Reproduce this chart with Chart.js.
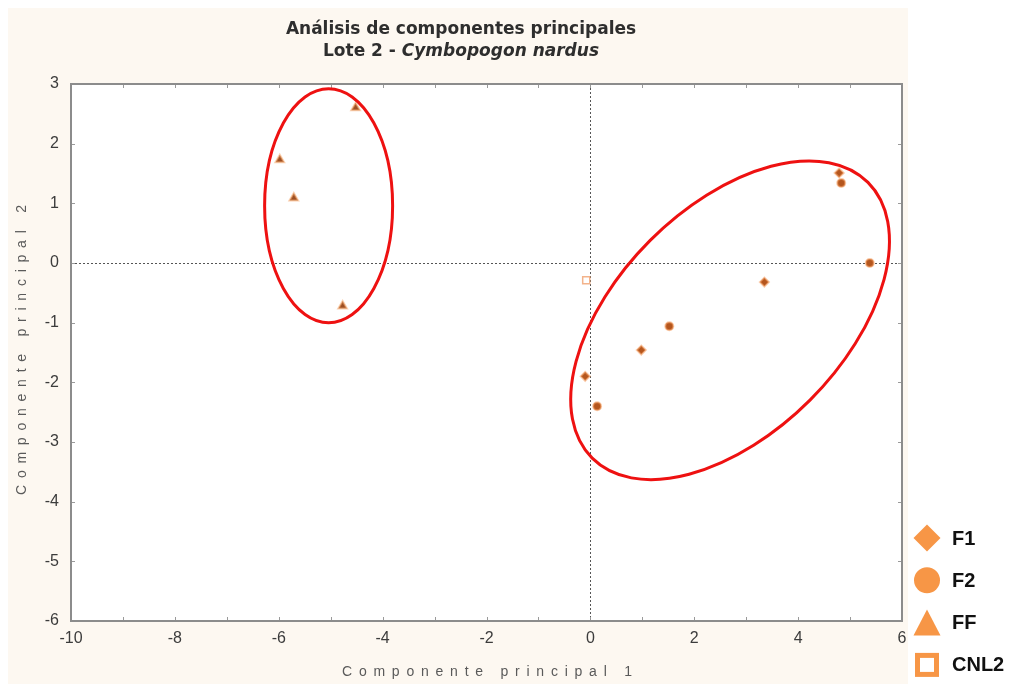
<!DOCTYPE html>
<html>
<head>
<meta charset="utf-8">
<script src="https://cdn.jsdelivr.net/npm/chart.js@4/dist/chart.umd.min.js"></script>
<style>
  html, body { margin: 0; padding: 0; background: #ffffff; }
  #wrap { width: 1024px; height: 684px; position: relative; }
</style>
</head>
<body>
<div id="wrap"><canvas id="pca" width="1024" height="684"></canvas></div>
<script>
// PCA scores, lote 2 (Cymbopogon nardus)
const seriesNames = ['F1', 'F2', 'FF', 'CNL2'];
const f1X = [-0.10, 0.98, 3.35, 4.79];
const f1Y = [-1.90, -1.46, -0.32, 1.51];
const f2X = [0.13, 1.52, 4.83, 5.38];
const f2Y = [-2.40, -1.06, 1.34, 0.00];
const ffX = [-5.98, -5.71, -4.52, -4.77];
const ffY = [1.73, 1.09, 2.60, -0.72];
const cnlX = [-0.08];
const cnlY = [-0.29];

// axis ranges and tick labels
const xRange = [-10, 6];
const yRange = [-6, 3];
const xTickLabels = [-10, -8, -6, -4, -2, 0, 2, 4, 6];
const yTickLabels = [-6, -5, -4, -3, -2, -1, 0, 1, 2, 3];

const titleLine1 = 'Análisis de componentes principales';
const titleLine2a = 'Lote 2 - ';
const titleLine2b = 'Cymbopogon nardus';
const xTitle = 'Componente principal 1';
const yTitle = 'Componente principal 2';

// cluster outlines: centre in data units, semi-axes in pixels, rotation in degrees
const clusterRings = [
  { cx: -5.04, cy: 0.96, rx: 64, ry: 117, rot: 0 },
  { cx: 2.69, cy: -0.96, rx: 195, ry: 113, rot: -45 }
];

const pts = (xs, ys) => xs.map((x, i) => ({ x, y: ys[i] }));

const LEGEND_ORANGE = '#f79646';

const backdrop = {
  id: 'backdrop',
  beforeDraw(chart) {
    const { ctx, chartArea: a } = chart;
    ctx.save();
    ctx.fillStyle = '#ffffff';
    ctx.fillRect(0, 0, chart.width, chart.height);
    ctx.fillStyle = '#fdf8f1';
    ctx.fillRect(8, 8, 900, 676);
    ctx.fillStyle = '#ffffff';
    ctx.fillRect(a.left, a.top, a.right - a.left, a.bottom - a.top);
    ctx.restore();
  }
};

const frameAndTicks = {
  id: 'frameAndTicks',
  afterDraw(chart) {
    const { ctx, chartArea: a, scales } = chart;
    ctx.save();
    // inner tick marks
    ctx.strokeStyle = '#9a9a9a';
    ctx.lineWidth = 1;
    ctx.beginPath();
    scales.x.ticks.forEach(t => {
      const px = Math.round(scales.x.getPixelForValue(t.value)) + 0.5;
      ctx.moveTo(px, a.bottom); ctx.lineTo(px, a.bottom - 4);
      ctx.moveTo(px, a.top); ctx.lineTo(px, a.top + 4);
    });
    scales.y.ticks.forEach(t => {
      const py = Math.round(scales.y.getPixelForValue(t.value)) + 0.5;
      ctx.moveTo(a.left, py); ctx.lineTo(a.left + 4, py);
      ctx.moveTo(a.right, py); ctx.lineTo(a.right - 4, py);
    });
    ctx.stroke();
    // frame
    ctx.strokeStyle = '#8c8c8c';
    ctx.lineWidth = 2;
    ctx.strokeRect(a.left, a.top, a.right - a.left, a.bottom - a.top);
    ctx.restore();
  }
};

const rings = {
  id: 'rings',
  afterDraw(chart) {
    const { ctx, scales } = chart;
    ctx.save();
    ctx.strokeStyle = '#ee1111';
    ctx.lineWidth = 3;
    clusterRings.forEach(r => {
      const px = scales.x.getPixelForValue(r.cx);
      const py = scales.y.getPixelForValue(r.cy);
      ctx.beginPath();
      ctx.ellipse(px, py, r.rx, r.ry, r.rot * Math.PI / 180, 0, Math.PI * 2);
      ctx.stroke();
    });
    ctx.restore();
  }
};

function spacedText(ctx, text, cx, cy, span) {
  const widths = [...text].map(ch => ctx.measureText(ch).width);
  const natural = widths.reduce((s, w) => s + w, 0);
  const gap = (span - natural) / (text.length - 1);
  let x = cx - span / 2;
  [...text].forEach((ch, i) => {
    ctx.fillText(ch, x, cy);
    x += widths[i] + gap;
  });
}

const texts = {
  id: 'texts',
  afterDraw(chart) {
    const { ctx } = chart;
    ctx.save();
    // title
    const fBold = 'bold 17px "DejaVu Sans"';
    const fItal = 'italic bold 17px "DejaVu Sans"';
    ctx.fillStyle = '#2e2e2e';
    ctx.textBaseline = 'middle';
    ctx.textAlign = 'center';
    ctx.font = fBold;
    ctx.fillText(titleLine1, 461, 30);
    ctx.textAlign = 'left';
    const w1 = ctx.measureText(titleLine2a).width;
    ctx.font = fItal;
    const w2 = ctx.measureText(titleLine2b).width;
    const x0 = 461 - (w1 + w2) / 2;
    ctx.font = fBold;
    ctx.fillText(titleLine2a, x0, 52);
    ctx.font = fItal;
    ctx.fillText(titleLine2b, x0 + w1, 52);

    // axis titles
    ctx.fillStyle = '#5a5a5a';
    ctx.font = '14px "Liberation Sans"';
    ctx.textAlign = 'left';
    spacedText(ctx, xTitle, 487, 672, 290);
    ctx.translate(22, 350);
    ctx.rotate(-Math.PI / 2);
    spacedText(ctx, yTitle, 0, 0, 290);
    ctx.restore();

    // legend
    ctx.save();
    const lx = 927;
    seriesNames.forEach((name, i) => {
      const ly = 538 + i * 42.3;
      ctx.fillStyle = LEGEND_ORANGE;
      ctx.strokeStyle = LEGEND_ORANGE;
      ctx.beginPath();
      if (name === 'F1') {
        ctx.moveTo(lx, ly - 13.5); ctx.lineTo(lx + 13.5, ly);
        ctx.lineTo(lx, ly + 13.5); ctx.lineTo(lx - 13.5, ly);
        ctx.closePath(); ctx.fill();
      } else if (name === 'F2') {
        ctx.arc(lx, ly, 13, 0, Math.PI * 2); ctx.fill();
      } else if (name === 'FF') {
        ctx.moveTo(lx, ly - 13); ctx.lineTo(lx + 13.5, ly + 13);
        ctx.lineTo(lx - 13.5, ly + 13); ctx.closePath(); ctx.fill();
      } else {
        ctx.lineWidth = 5;
        ctx.strokeRect(lx - 9.5, ly - 9.5, 19, 19);
      }
      ctx.fillStyle = '#111111';
      ctx.font = 'bold 20px "Liberation Sans"';
      ctx.textAlign = 'left';
      ctx.textBaseline = 'middle';
      ctx.fillText(name, 952, ly + 1);
    });
    ctx.restore();
  }
};

const tickFont = { family: '"Liberation Sans", Arial, sans-serif', size: 16 };

new Chart(document.getElementById('pca'), {
  type: 'scatter',
  data: {
    datasets: [
      { label: seriesNames[0], data: pts(f1X, f1Y), pointStyle: 'rectRot', pointRadius: 4.5,
        backgroundColor: '#b4561e', borderColor: 'rgba(246,160,100,0.55)', borderWidth: 2 },
      { label: seriesNames[1], data: pts(f2X, f2Y), pointStyle: 'circle', pointRadius: 4,
        backgroundColor: '#b4561e', borderColor: 'rgba(246,160,100,0.55)', borderWidth: 2 },
      { label: seriesNames[2], data: pts(ffX, ffY), pointStyle: 'triangle', pointRadius: 5,
        backgroundColor: '#9c4f24', borderColor: 'rgba(246,170,110,0.55)', borderWidth: 2 },
      { label: seriesNames[3], data: pts(cnlX, cnlY), pointStyle: 'rect', pointRadius: 5,
        backgroundColor: 'rgba(255,255,255,0)', borderColor: 'rgba(240,160,110,0.8)', borderWidth: 1.5 }
    ]
  },
  options: {
    responsive: false,
    animation: false,
    devicePixelRatio: 1,
    layout: { padding: { left: 8, top: 84, right: 122, bottom: 0 } },
    plugins: { legend: { display: false }, tooltip: { enabled: false }, title: { display: false } },
    scales: {
      x: {
        type: 'linear', min: xRange[0], max: xRange[1],
        afterFit(s) { s.height = 63; },
        ticks: {
          stepSize: 1, autoSkip: false, maxRotation: 0, padding: 8,
          color: '#3c3c3c', font: tickFont,
          callback: v => (xTickLabels.includes(v) ? String(v) : '')
        },
        grid: {
          drawTicks: false,
          color: c => (c.tick && c.tick.value === 0 ? '#555555' : 'rgba(0,0,0,0)'),
          lineWidth: 1
        },
        border: { display: false, dash: [2, 2] }
      },
      y: {
        type: 'linear', min: yRange[0], max: yRange[1],
        afterFit(s) { s.width = 63; },
        ticks: {
          stepSize: 1, autoSkip: false, padding: 12,
          color: '#3c3c3c', font: tickFont,
          callback: v => (yTickLabels.includes(v) ? String(v) : '')
        },
        grid: {
          drawTicks: false,
          color: c => (c.tick && c.tick.value === 0 ? '#555555' : 'rgba(0,0,0,0)'),
          lineWidth: 1
        },
        border: { display: false, dash: [2, 2] }
      }
    }
  },
  plugins: [backdrop, frameAndTicks, rings, texts]
});
</script>
</body>
</html>
